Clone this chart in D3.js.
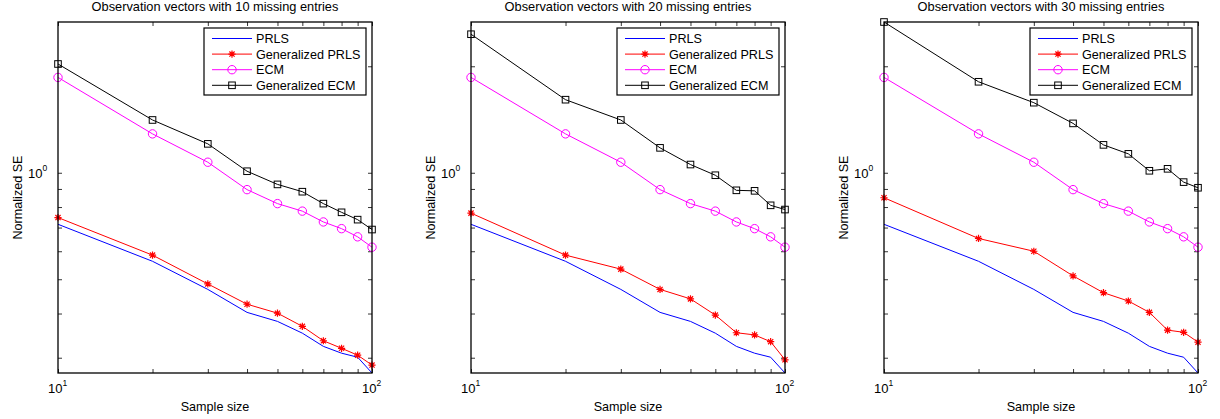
<!DOCTYPE html>
<html>
<head>
<meta charset="utf-8">
<script src="https://cdn.jsdelivr.net/npm/d3@7"></script>
<style>
  body { margin: 0; background: #fff; }
  text { font-family: Arial, "Liberation Sans", sans-serif; fill: #000; }
</style>
</head>
<body>
<div id="chart"></div>
<script>
// data
const sampleSizes = [10, 20, 30, 40, 50, 60, 70, 80, 90, 100];
const panelTitles = [
  "Observation vectors with 10 missing entries",
  "Observation vectors with 20 missing entries",
  "Observation vectors with 30 missing entries"
];
const seriesNames = ["PRLS", "Generalized PRLS", "ECM", "Generalized ECM"];

const prls = [0.715, 0.562, 0.468, 0.403, 0.380, 0.352, 0.323, 0.309, 0.301, 0.2716];
const ecm = [1.86, 1.288, 1.071, 0.896, 0.818, 0.779, 0.726, 0.695, 0.659, 0.616];

const genPrls10 = [0.747, 0.585, 0.485, 0.425, 0.401, 0.368, 0.335, 0.319, 0.305, 0.286];
const genPrls20 = [0.769, 0.585, 0.534, 0.468, 0.440, 0.396, 0.353, 0.348, 0.333, 0.296];
const genPrls30 = [0.850, 0.652, 0.600, 0.511, 0.458, 0.434, 0.403, 0.359, 0.354, 0.332];

const genEcm10 = [2.03, 1.41, 1.207, 1.01, 0.927, 0.884, 0.818, 0.773, 0.737, 0.691];
const genEcm20 = [2.464, 1.609, 1.41, 1.176, 1.055, 0.984, 0.892, 0.889, 0.809, 0.787];
const genEcm30 = [2.668, 1.808, 1.578, 1.379, 1.199, 1.131, 1.013, 1.026, 0.941, 0.907];

const panels = [
  [prls, genPrls10, ecm, genEcm10],
  [prls, genPrls20, ecm, genEcm20],
  [prls, genPrls30, ecm, genEcm30]
];

const colors = ["#0000ff", "#ff0000", "#ff00ff", "#000000"];
const markers = [null, "star", "circle", "square"];

const W = 1220, H = 419;
const plotLefts = [58, 471, 884];
const plotW = 314;
const plotTop = 22, plotBottom = 373;

const allVals = panels.flat(2);
const x = d3.scaleLog().domain([10, 100]).range([0, plotW]);
const y = d3.scaleLog().domain([d3.min(allVals), d3.max(allVals)]).range([plotBottom - plotTop, 0]);

const svg = d3.select("#chart").append("svg")
  .attr("width", W)
  .attr("height", H);

function drawMarker(g, type, cx, cy, color) {
  if (type === "circle") {
    g.append("circle").attr("cx", cx).attr("cy", cy).attr("r", 4.2)
      .attr("fill", "none").attr("stroke", color).attr("stroke-width", 1);
  } else if (type === "square") {
    g.append("rect").attr("x", cx - 3.3).attr("y", cy - 3.3)
      .attr("width", 6.6).attr("height", 6.6)
      .attr("fill", "none").attr("stroke", color).attr("stroke-width", 1);
  } else if (type === "star") {
    const r = 3.6;
    const p = d3.path();
    p.moveTo(cx - r, cy); p.lineTo(cx + r, cy);
    p.moveTo(cx, cy - r); p.lineTo(cx, cy + r);
    p.moveTo(cx - r * 0.72, cy - r * 0.72); p.lineTo(cx + r * 0.72, cy + r * 0.72);
    p.moveTo(cx - r * 0.72, cy + r * 0.72); p.lineTo(cx + r * 0.72, cy - r * 0.72);
    g.append("path").attr("d", p.toString()).attr("stroke", color)
      .attr("stroke-width", 1.2).attr("fill", "none");
  }
}

function sup(sel, base, exp) {
  sel.text(base);
  sel.append("tspan").attr("font-size", 8.5).attr("dy", -7).text(exp);
}

const yTickVals = [0.3, 0.4, 0.5, 0.6, 0.7, 0.8, 0.9, 1, 2];
const xTickVals = [10, 20, 30, 40, 50, 60, 70, 80, 90, 100];

panels.forEach((series, pi) => {
  const g = svg.append("g").attr("transform", `translate(${plotLefts[pi]},${plotTop})`);
  const h = plotBottom - plotTop;

  // ticks (inside, mirrored like MATLAB box)
  g.append("g").attr("class", "axis").call(
    d3.axisLeft(y).tickValues(yTickVals).tickSize(-4).tickFormat(""));
  g.append("g").attr("class", "axis").attr("transform", `translate(${plotW},0)`).call(
    d3.axisRight(y).tickValues(yTickVals).tickSize(-4).tickFormat(""));
  g.append("g").attr("class", "axis").attr("transform", `translate(0,${h})`).call(
    d3.axisBottom(x).tickValues(xTickVals).tickSize(-4).tickFormat(""));
  g.append("g").attr("class", "axis").call(
    d3.axisTop(x).tickValues(xTickVals).tickSize(-4).tickFormat(""));
  g.selectAll(".axis path.domain").remove();
  g.selectAll(".axis line").attr("stroke", "#000").attr("stroke-width", 0.8);

  // series
  const line = d3.line().x((d, i) => x(sampleSizes[i])).y(d => y(d));
  series.forEach((vals, si) => {
    g.append("path").datum(vals).attr("d", line)
      .attr("fill", "none").attr("stroke", colors[si]).attr("stroke-width", 1);
    if (markers[si]) {
      vals.forEach((v, i) => drawMarker(g, markers[si], x(sampleSizes[i]), y(v), colors[si]));
    }
  });

  // box
  g.append("rect").attr("width", plotW).attr("height", h)
    .attr("fill", "none").attr("stroke", "#000").attr("stroke-width", 1.3);

  // tick labels
  sup(g.append("text").attr("x", x(10) - 10).attr("y", h + 20)
    .attr("font-size", 13), "10", "1");
  sup(g.append("text").attr("x", x(100) - 10).attr("y", h + 20)
    .attr("font-size", 13), "10", "2");
  sup(g.append("text").attr("x", -30).attr("y", y(1) + 5)
    .attr("font-size", 13), "10", "0");

  // labels
  g.append("text").attr("x", plotW / 2).attr("y", h + 38)
    .attr("text-anchor", "middle").attr("font-size", 12.6).text("Sample size");
  g.append("text").attr("transform", `translate(-36,${h / 2}) rotate(-90)`)
    .attr("text-anchor", "middle").attr("font-size", 12.6).text("Normalized SE");
  g.append("text").attr("x", plotW / 2).attr("y", -11)
    .attr("text-anchor", "middle").attr("font-size", 12.8).text(panelTitles[pi]);

  // legend
  const lg = g.append("g").attr("transform", `translate(${plotW - 168},${6})`);
  lg.append("rect").attr("width", 162).attr("height", 67)
    .attr("fill", "#fff").attr("stroke", "#000").attr("stroke-width", 1.2);
  seriesNames.forEach((name, si) => {
    const ly = 10.5 + si * 15.6;
    lg.append("line").attr("x1", 8).attr("x2", 48).attr("y1", ly).attr("y2", ly)
      .attr("stroke", colors[si]).attr("stroke-width", 1);
    if (markers[si]) drawMarker(lg, markers[si], 28, ly, colors[si]);
    lg.append("text").attr("x", 52).attr("y", ly + 4.5)
      .attr("font-size", 12.6).text(name);
  });
});
</script>
</body>
</html>
